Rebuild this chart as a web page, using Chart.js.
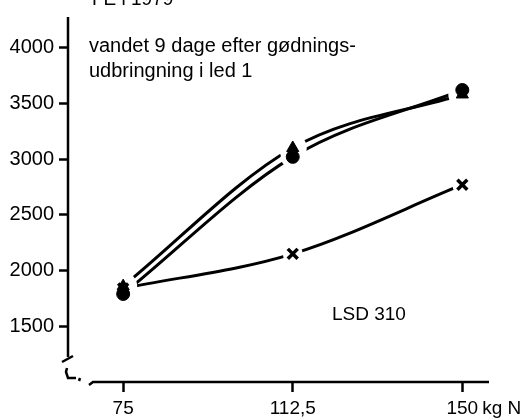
<!DOCTYPE html>
<html>
<head>
<meta charset="utf-8">
<script src="https://cdn.jsdelivr.net/npm/chart.js@4/dist/chart.umd.min.js"></script>
<style>
  html, body { margin: 0; padding: 0; background: #fff; }
  canvas { display: block; }
</style>
</head>
<body>
<canvas id="c" width="532" height="420"></canvas>
<script>
// Nitrogen rates (kg N) and yields for the three treatments
const nitrogen = [75, 112.5, 150];
const seriesCircle = [1790, 3020, 3620];
const seriesTriangle = [1860, 3100, 3580];
const seriesCross = [1840, 2150, 2770];

// Axis ticks and labels
const yTicks = [1500, 2000, 2500, 3000, 3500, 4000];
const xTickLabels = ['75', '112,5', '150'];
const xUnit = 'kg N';
const headLabel = 'FE i 1979';
const noteLines = ['vandet 9 dage efter gødnings-', 'udbringning i led 1'];
const lsdLabel = 'LSD 310';

const FONT = '"Liberation Sans", Arial, Helvetica, sans-serif';
const INK = '#000';

const pts = vals => nitrogen.map((x, i) => ({ x, y: vals[i] }));

function curve(vals) {
  return { data: pts(vals), showLine: true, borderColor: INK, borderWidth: 3,
           cubicInterpolationMode: 'monotone', pointRadius: 0, fill: false, order: 10 };
}
// white disc behind each marker so the curves stop short of it
function halo(vals, r) {
  return { data: pts(vals), showLine: false, pointRadius: r, pointStyle: 'circle',
           pointBackgroundColor: '#fff', pointBorderWidth: 0, pointBorderColor: '#fff', order: 5 };
}
function marker(vals, style, r, order, bw) {
  return { data: pts(vals), showLine: false, pointRadius: r, pointStyle: style,
           pointBackgroundColor: INK, pointBorderColor: INK, pointBorderWidth: bw, order };
}

// Axis lines with break marks, plus free text
const decorations = {
  id: 'decorations',
  afterDatasetsDraw(chart) {
    const { ctx, chartArea: a, scales: { x } } = chart;
    ctx.save();
    ctx.strokeStyle = INK;
    ctx.lineWidth = 2.5;
    ctx.lineCap = 'butt';
    // vertical axis, stopped short above the break
    const yl = a.left;
    ctx.beginPath();
    ctx.moveTo(yl, a.top);
    ctx.lineTo(yl, a.bottom - 25);
    ctx.stroke();
    // break marks in the lower left corner
    ctx.beginPath();
    ctx.moveTo(yl - 6, a.bottom - 20);
    ctx.lineTo(yl + 5, a.bottom - 26);
    ctx.stroke();
    ctx.beginPath();
    ctx.moveTo(yl - 1, a.bottom - 14);
    ctx.lineTo(yl - 2, a.bottom - 10);
    ctx.lineTo(yl, a.bottom - 4);
    ctx.lineTo(yl + 8, a.bottom - 4);
    ctx.stroke();
    ctx.beginPath();
    ctx.moveTo(yl + 12, a.bottom - 4);
    ctx.lineTo(yl + 11, a.bottom - 1);
    ctx.stroke();
    // horizontal axis
    ctx.beginPath();
    ctx.moveTo(yl + 21, a.bottom + 3);
    ctx.lineTo(yl + 25, a.bottom);
    ctx.lineTo(a.right, a.bottom);
    ctx.stroke();

    // texts
    ctx.fillStyle = INK;
    ctx.textAlign = 'left';
    ctx.textBaseline = 'alphabetic';
    ctx.font = '19px ' + FONT;
    ctx.fillText(headLabel, 92, 5);
    ctx.font = '20px ' + FONT;
    ctx.fillText(noteLines[0], 89, 52);
    ctx.fillText(noteLines[1], 89, 77);
    ctx.font = '19px ' + FONT;
    ctx.fillText(lsdLabel, 332, 320);

    // unit after the last x tick label
    const px = x.getPixelForValue(nitrogen[nitrogen.length - 1]);
    const w = ctx.measureText(xTickLabels[xTickLabels.length - 1]).width;
    ctx.textBaseline = 'middle';
    ctx.fillText(xUnit, px + w / 2 + 4, a.bottom + 10 + 5 + 19 * 0.6);
    ctx.restore();
  }
};

new Chart(document.getElementById('c'), {
  type: 'scatter',
  data: {
    datasets: [
      curve(seriesTriangle),
      curve(seriesCircle),
      curve(seriesCross),
      halo(seriesTriangle, 14),
      halo(seriesCircle, 12),
      halo(seriesCross, 10),
      marker(seriesCross, 'crossRot', 7, 3, 3.5),
      marker(seriesTriangle, 'triangle', 7, 2, 1),
      marker(seriesCircle, 'circle', 6.5, 1, 1)
    ]
  },
  options: {
    responsive: false,
    animation: false,
    devicePixelRatio: 1,
    layout: { padding: { top: 12, right: 43, left: 0, bottom: 0 } },
    plugins: { legend: { display: false }, tooltip: { enabled: false } },
    scales: {
      x: {
        type: 'linear',
        min: 62.8,
        max: 155.9,
        afterBuildTicks: s => { s.ticks = nitrogen.map(v => ({ value: v })); },
        afterFit: s => { s.height = 38; },
        border: { display: false },
        grid: { drawOnChartArea: false, drawTicks: true, tickLength: 10, tickWidth: 2.5, tickColor: INK },
        ticks: {
          color: INK, padding: 5, maxRotation: 0, autoSkip: false,
          font: { family: FONT, size: 19 },
          callback: (v, i) => xTickLabels[i]
        }
      },
      y: {
        type: 'linear',
        min: 1000,
        max: 4275,
        afterBuildTicks: s => { s.ticks = yTicks.map(v => ({ value: v })); },
        afterFit: s => { s.width = 68; },
        border: { display: false },
        grid: { drawOnChartArea: false, drawTicks: true, tickLength: 9, tickWidth: 2.5, tickColor: INK },
        ticks: {
          color: INK, padding: 5,
          font: { family: FONT, size: 20 },
          callback: v => String(v)
        }
      }
    }
  },
  plugins: [decorations]
});
</script>
</body>
</html>
